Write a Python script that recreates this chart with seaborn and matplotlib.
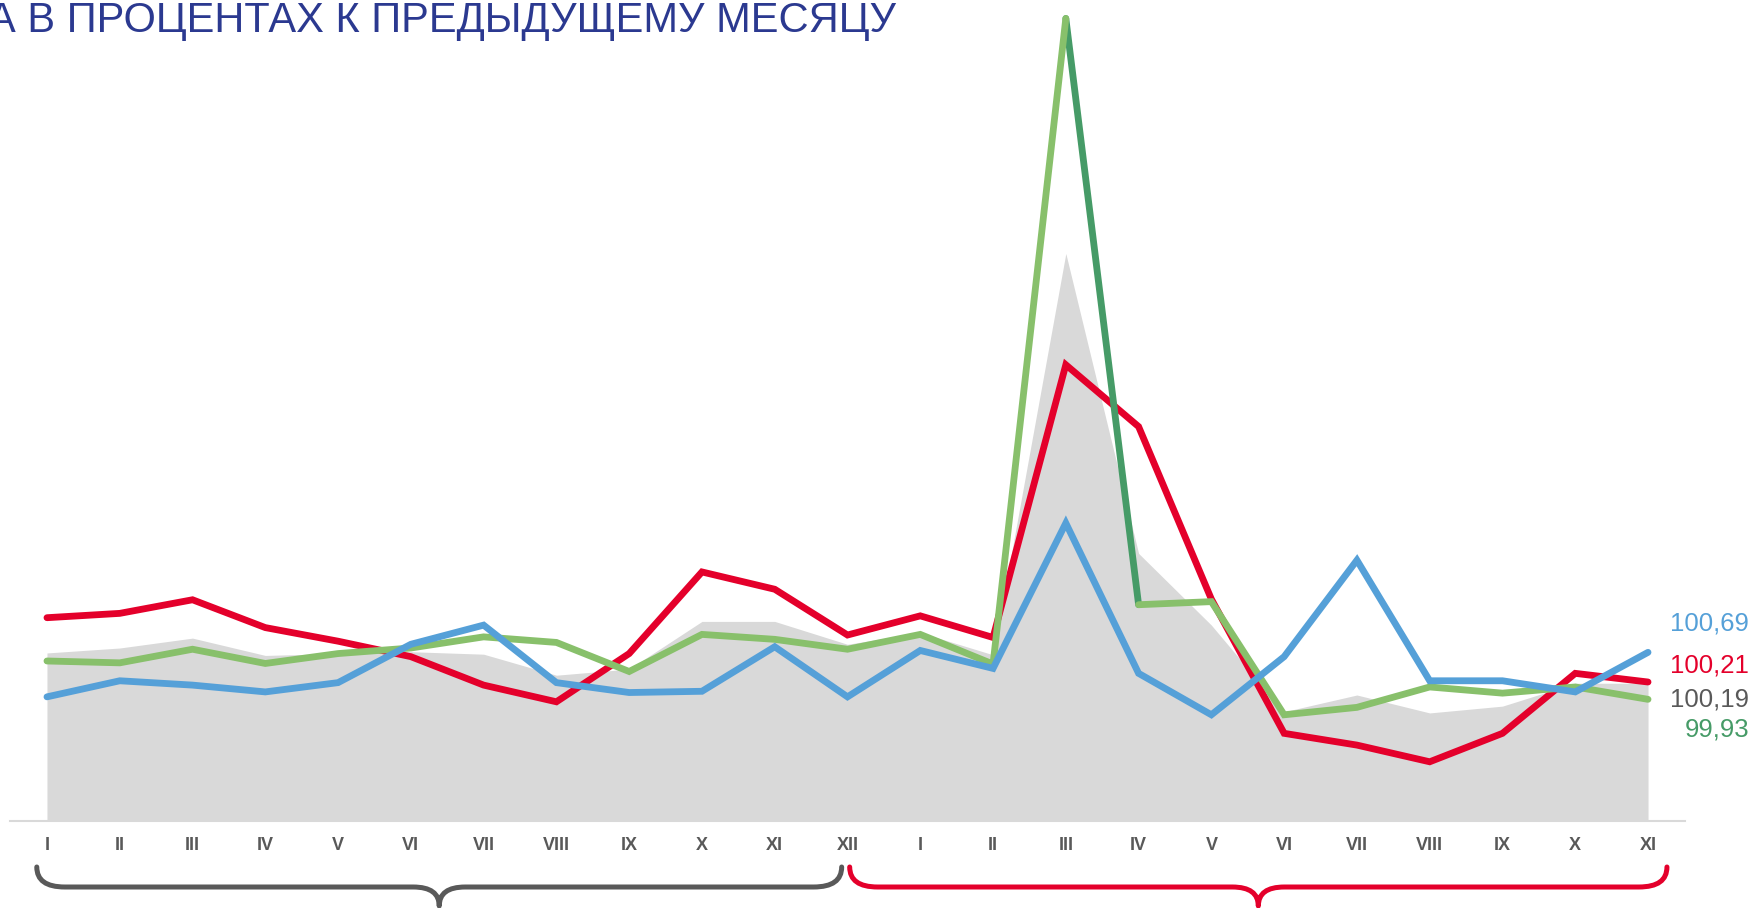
import numpy as np
import matplotlib
matplotlib.use("Agg")
import matplotlib.pyplot as plt
import seaborn as sns
from matplotlib.path import Path
from matplotlib.patches import PathPatch
from matplotlib.transforms import IdentityTransform
from matplotlib import font_manager as fm

# ---------------- data ----------------
months = ["I", "II", "III", "IV", "V", "VI", "VII", "VIII", "IX", "X", "XI", "XII",
          "I", "II", "III", "IV", "V", "VI", "VII", "VIII", "IX", "X", "XI"]

gray_vals = [100.68, 100.76, 100.92, 100.64, 100.67, 100.70, 100.66, 100.32, 100.42, 101.19, 101.19, 100.82,
             101.01, 100.65, 107.14, 102.29, 101.13, 99.73, 100.00, 99.71, 99.82, 100.19, 100.19]
red_vals = [101.25, 101.32, 101.54, 101.09, 100.87, 100.62, 100.16, 99.89, 100.67, 101.99, 101.71, 100.97,
            101.28, 100.93, 105.34, 104.34, 101.55, 99.38, 99.19, 98.92, 99.38, 100.35, 100.21]
blue_vals = [99.97, 100.23, 100.16, 100.05, 100.20, 100.82, 101.13, 100.20, 100.04, 100.06, 100.78, 99.97,
             100.72, 100.43, 102.78, 100.35, 99.68, 100.62, 102.18, 100.23, 100.23, 100.05, 100.69]
green_vals = [100.55, 100.52, 100.74, 100.51, 100.67, 100.76, 100.94, 100.85, 100.38, 100.98, 100.90, 100.74,
              100.98, 100.50, 110.94, 101.46, 101.51, 99.68, 99.80, 100.13, 100.03, 100.13, 99.93]

title_text = "А В ПРОЦЕНТАХ К ПРЕДЫДУЩЕМУ МЕСЯЦУ"

# ---------------- style ----------------
RED = "#E4002B"
BLUE = "#55A0D8"
LGREEN = "#88C06B"
DGREEN = "#469B67"
GRAYFILL = "#D9D9D9"
TXTGRAY = "#595959"
TITLE = "#2B3990"

sns.set_theme(style="white")
names = {f.name for f in fm.fontManager.ttflist}
base = "Liberation Sans" if "Liberation Sans" in names else "DejaVu Sans"
narrow = "Liberation Sans Narrow" if "Liberation Sans Narrow" in names else base
plt.rcParams["font.family"] = [base, "DejaVu Sans"]

W, H = 1754, 908
fig = plt.figure(figsize=(W / 100, H / 100), dpi=100)
fig.patch.set_facecolor("white")
ax = fig.add_axes([10 / W, 87 / H, 1675 / W, 821 / H])
ax.set_facecolor("white")

ylo, yhi = 97.9625, 111.2387
x = np.arange(len(months))

ax.fill_between(x, ylo, gray_vals, color=GRAYFILL, lw=0, zorder=1)

lw = 4.9
kw = dict(ax=ax, linewidth=lw, solid_capstyle="round", solid_joinstyle="miter", clip_on=False)
sns.lineplot(x=x, y=red_vals, color=RED, zorder=3, **kw)
sns.lineplot(x=x[14:16], y=green_vals[14:16], color=DGREEN, zorder=4, **kw)
sns.lineplot(x=x[:15], y=green_vals[:15], color=LGREEN, zorder=5, **kw)
sns.lineplot(x=x[15:], y=green_vals[15:], color=LGREEN, zorder=5, **kw)
sns.lineplot(x=x, y=blue_vals, color=BLUE, zorder=6, **kw)

ax.set_xlim(-0.508, 22.508)
ax.set_ylim(ylo, yhi)
ax.set_xticks(x)
ax.set_xticklabels(months, fontfamily=[narrow, "DejaVu Sans"], fontweight="bold",
                   fontsize=13, color=TXTGRAY)
ax.set_yticks([])
ax.tick_params(axis="x", length=0, pad=11.5)
ax.set_xlabel("")
ax.set_ylabel("")
for s in ["left", "top", "right"]:
    ax.spines[s].set_visible(False)
ax.spines["bottom"].set_color(GRAYFILL)
ax.spines["bottom"].set_linewidth(1.5)
ax.spines["bottom"].set_zorder(0.5)

# title (cut at the left edge as in the reference)
fig.text(896 / W, 1 - 32 / H, title_text, ha="right", va="baseline",
         fontsize=30, color=TITLE, fontfamily=[narrow, "DejaVu Sans"])

# end-value labels
def fmt(v):
    return f"{v:.2f}".replace(".", ",")

end_labels = [
    (fmt(blue_vals[-1]), BLUE, 631),
    (fmt(red_vals[-1]), RED, 672),
    (fmt(gray_vals[-1]), TXTGRAY, 707),
    (fmt(green_vals[-1]), DGREEN, 737),
]
for txt, col, ypx in end_labels:
    fig.text(1749 / W, 1 - ypx / H, txt, ha="right", va="baseline", fontsize=18.5, color=col)

# year braces
fig.canvas.draw()

def brace(xd0, xd1, color):
    px0 = ax.transData.transform((xd0, 100))[0]
    px1 = ax.transData.transform((xd1, 100))[0]
    pxc = (px0 + px1) / 2
    r = 28
    rm = 26
    yt, ym, yb = H - 867, H - 887, H - 906
    verts = [(px0, yt), (px0, ym), (px0 + r, ym), (pxc - rm, ym), (pxc, ym), (pxc, yb),
             (pxc, ym), (pxc + rm, ym), (px1 - r, ym), (px1, ym), (px1, yt)]
    codes = [Path.MOVETO, Path.CURVE3, Path.CURVE3, Path.LINETO, Path.CURVE3, Path.CURVE3,
             Path.CURVE3, Path.CURVE3, Path.LINETO, Path.CURVE3, Path.CURVE3]
    p = PathPatch(Path(verts, codes), fill=False, edgecolor=color, linewidth=3.6,
                  capstyle="round", joinstyle="round", transform=IdentityTransform())
    fig.add_artist(p)

brace(-0.14, 10.92, TXTGRAY)
brace(11.03, 22.26, RED)

fig.savefig("out.png", dpi=100, facecolor="white")
